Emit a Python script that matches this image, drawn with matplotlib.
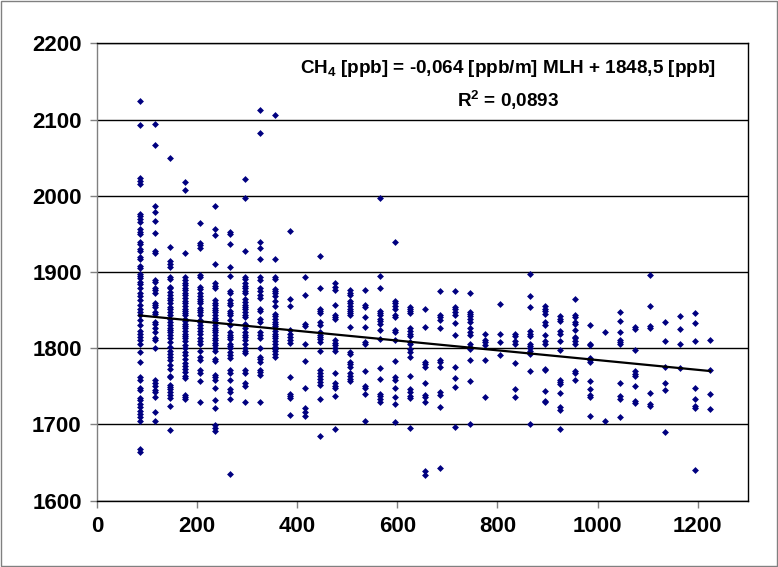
import matplotlib
matplotlib.use("Agg")
import matplotlib.pyplot as plt
from matplotlib.patches import Rectangle

plt.rcParams['font.family'] = ['Liberation Sans', 'DejaVu Sans']
plt.rcParams['mathtext.fontset'] = 'custom'
plt.rcParams['mathtext.rm'] = 'Liberation Sans:bold'
plt.rcParams['mathtext.it'] = 'Liberation Sans:bold'
plt.rcParams['mathtext.bf'] = 'Liberation Sans:bold'

# CH4 [ppb] readings, one list per mixing layer height bin [m]
ch4_085 = [2124, 2093, 2023, 2020, 2016, 1976, 1973, 1969, 1966, 1956, 1953, 1950, 1940, 1937,
           1930, 1927, 1920, 1917, 1908, 1905, 1898, 1895, 1892, 1887, 1884, 1879, 1873, 1868,
           1863, 1857, 1852, 1848, 1843, 1837, 1830, 1823, 1819, 1815, 1811, 1806, 1795, 1782,
           1762, 1759, 1748, 1745, 1735, 1732, 1727, 1723, 1718, 1714, 1710, 1704, 1668, 1664]
ch4_115 = [2094, 2066, 1987, 1979, 1967, 1951, 1927, 1925, 1889, 1887, 1879, 1876, 1872, 1859,
           1857, 1854, 1848, 1845, 1835, 1832, 1826, 1821, 1814, 1811, 1800, 1758, 1755, 1751,
           1745, 1742, 1736, 1716, 1704]
ch4_145 = [2050, 1933, 1914, 1911, 1907, 1894, 1891, 1881, 1879, 1874, 1870, 1866, 1863, 1859,
           1854, 1851, 1848, 1843, 1839, 1835, 1830, 1827, 1824, 1821, 1817, 1813, 1808, 1802,
           1797, 1793, 1789, 1784, 1778, 1773, 1764, 1762, 1752, 1749, 1746, 1743, 1739, 1735,
           1724, 1693]
ch4_175 = [2018, 2008, 1925, 1893, 1889, 1886, 1883, 1879, 1876, 1873, 1870, 1866, 1862, 1859,
           1856, 1852, 1849, 1846, 1843, 1839, 1836, 1832, 1829, 1826, 1822, 1819, 1816, 1813,
           1809, 1804, 1800, 1795, 1791, 1786, 1780, 1777, 1773, 1769, 1764, 1761, 1739, 1736, 1734]
ch4_205 = [1964, 1938, 1935, 1931, 1896, 1893, 1881, 1878, 1872, 1869, 1865, 1862, 1859, 1853,
           1850, 1847, 1843, 1837, 1835, 1831, 1826, 1822, 1819, 1813, 1809, 1806, 1797, 1789,
           1784, 1771, 1768, 1757, 1730]
ch4_235 = [1987, 1957, 1949, 1911, 1885, 1882, 1879, 1863, 1860, 1857, 1853, 1850, 1847, 1843,
           1840, 1837, 1834, 1830, 1827, 1824, 1821, 1817, 1814, 1811, 1807, 1804, 1800, 1797,
           1786, 1783, 1765, 1762, 1759, 1748, 1732, 1721, 1699, 1695, 1692]
ch4_265 = [1953, 1950, 1937, 1907, 1895, 1875, 1872, 1863, 1860, 1857, 1849, 1846, 1843, 1837,
           1830, 1821, 1818, 1815, 1812, 1806, 1803, 1800, 1795, 1791, 1787, 1771, 1768, 1758,
           1747, 1743, 1734, 1635]
ch4_295 = [2022, 1997, 1928, 1894, 1891, 1885, 1882, 1879, 1875, 1872, 1864, 1861, 1857, 1854,
           1851, 1848, 1844, 1841, 1832, 1830, 1827, 1821, 1818, 1815, 1811, 1806, 1800, 1797,
           1794, 1771, 1768, 1754, 1750, 1729]
ch4_325 = [2112, 2083, 1940, 1931, 1917, 1893, 1889, 1879, 1875, 1870, 1866, 1852, 1849, 1838,
           1835, 1821, 1817, 1814, 1800, 1789, 1786, 1782, 1772, 1769, 1765, 1729]
ch4_355 = [2106, 1917, 1894, 1891, 1878, 1875, 1872, 1868, 1862, 1855, 1845, 1842, 1839, 1835,
           1832, 1829, 1826, 1822, 1819, 1816, 1813, 1809, 1806, 1802, 1799, 1796, 1792, 1789]
ch4_385 = [1954, 1865, 1855, 1824, 1819, 1815, 1811, 1807, 1762, 1740, 1737, 1735, 1712]
ch4_415 = [1894, 1870, 1832, 1829, 1806, 1783, 1748, 1721, 1717, 1711]
ch4_445 = [1921, 1879, 1852, 1849, 1846, 1835, 1831, 1821, 1818, 1815, 1812, 1808, 1797, 1771,
           1768, 1764, 1760, 1756, 1752, 1734, 1685]
ch4_475 = [1885, 1881, 1876, 1857, 1844, 1841, 1838, 1811, 1807, 1804, 1800, 1797, 1767, 1755,
           1751, 1748, 1738, 1694]
ch4_505 = [1876, 1873, 1870, 1862, 1859, 1856, 1852, 1849, 1846, 1843, 1828, 1795, 1792, 1782,
           1779, 1775, 1767, 1764, 1760, 1757]
ch4_535 = [1876, 1857, 1854, 1841, 1828, 1808, 1805, 1770, 1751, 1748, 1740, 1704]
ch4_565 = [1997, 1895, 1879, 1849, 1846, 1843, 1839, 1836, 1832, 1824, 1812, 1774, 1760, 1740,
           1737, 1734, 1729]
ch4_595 = [1940, 1862, 1859, 1856, 1852, 1844, 1841, 1824, 1821, 1811, 1783, 1762, 1759, 1748,
           1736, 1727, 1703]
ch4_625 = [1854, 1851, 1849, 1846, 1826, 1822, 1819, 1816, 1808, 1805, 1799, 1795, 1789, 1764,
           1747, 1742, 1738, 1735, 1695]
ch4_655 = [1851, 1828, 1782, 1779, 1775, 1754, 1739, 1736, 1729, 1639, 1634]
ch4_685 = [1875, 1844, 1841, 1837, 1826, 1785, 1782, 1775, 1742, 1739, 1723, 1643]
ch4_715 = [1875, 1854, 1851, 1847, 1844, 1833, 1818, 1775, 1761, 1749, 1697]
ch4_745 = [1872, 1848, 1845, 1842, 1839, 1834, 1827, 1821, 1817, 1805, 1802, 1799, 1784, 1757, 1701]
ch4_775 = [1819, 1811, 1808, 1804, 1785, 1736]
ch4_805 = [1858, 1819, 1808, 1791]
ch4_835 = [1819, 1816, 1809, 1805, 1781, 1746, 1736]
ch4_865 = [1897, 1868, 1854, 1822, 1819, 1816, 1806, 1803, 1800, 1796, 1792, 1770, 1700]
ch4_895 = [1856, 1852, 1849, 1845, 1834, 1830, 1818, 1809, 1805, 1773, 1771, 1744, 1731, 1729]
ch4_925 = [1842, 1839, 1836, 1822, 1819, 1809, 1798, 1759, 1756, 1753, 1741, 1723, 1719, 1694]
ch4_955 = [1864, 1844, 1841, 1834, 1832, 1824, 1815, 1813, 1809, 1806, 1770, 1768, 1759]
ch4_985 = [1830, 1806, 1804, 1787, 1784, 1782, 1757, 1746, 1739, 1736, 1711]
ch4_1015 = [1821, 1704]
ch4_1045 = [1847, 1836, 1821, 1811, 1808, 1805, 1755, 1738, 1734, 1710]
ch4_1075 = [1828, 1825, 1798, 1770, 1766, 1763, 1750, 1731, 1728]
ch4_1105 = [1896, 1856, 1829, 1826, 1741, 1727, 1724]
ch4_1135 = [1835, 1810, 1776, 1755, 1745, 1690]
ch4_1165 = [1842, 1825, 1806, 1774]
ch4_1195 = [1846, 1833, 1810, 1748, 1734, 1724, 1721, 1640]
ch4_1225 = [1811, 1772, 1740, 1720]

mlh_bins = [85, 115, 145, 175, 205, 235, 265, 295, 325, 355, 385, 415, 445, 475, 505, 535,
            565, 595, 625, 655, 685, 715, 745, 775, 805, 835, 865, 895, 925, 955, 985, 1015,
            1045, 1075, 1105, 1135, 1165, 1195, 1225]
ch4_bins = [ch4_085, ch4_115, ch4_145, ch4_175, ch4_205, ch4_235, ch4_265, ch4_295, ch4_325,
            ch4_355, ch4_385, ch4_415, ch4_445, ch4_475, ch4_505, ch4_535, ch4_565, ch4_595,
            ch4_625, ch4_655, ch4_685, ch4_715, ch4_745, ch4_775, ch4_805, ch4_835, ch4_865,
            ch4_895, ch4_925, ch4_955, ch4_985, ch4_1015, ch4_1045, ch4_1075, ch4_1105,
            ch4_1135, ch4_1165, ch4_1195, ch4_1225]

# linear fit given on the chart
slope = -0.064
intercept = 1848.5

x_ticks = [0, 200, 400, 600, 800, 1000, 1200]
y_ticks = [1600, 1700, 1800, 1900, 2000, 2100, 2200]

mlh = []
ch4 = []
for x, values in zip(mlh_bins, ch4_bins):
    mlh += [x] * len(values)
    ch4 += values

fig = plt.figure(figsize=(7.78, 5.67), dpi=100)
ax = fig.add_axes([0.1247, 0.1169, 0.8363, 0.8067])

ax.plot(mlh, ch4, 'D', ms=3.5, color='#000080', mec='none', zorder=3)

fit_x = [min(mlh_bins), max(mlh_bins)]
fit_y = [intercept + slope * x for x in fit_x]
ax.plot(fit_x, fit_y, color='black', lw=1.6, zorder=4)

ax.set_xlim(0, 1300)
ax.set_ylim(1600, 2200)
ax.set_xticks(x_ticks)
ax.set_yticks(y_ticks)
ax.yaxis.grid(True, color='black', lw=1)
ax.set_axisbelow(True)

for side in ['top', 'right', 'bottom']:
    ax.spines[side].set_color('black')
ax.spines['left'].set_color('#808080')
for s in ax.spines.values():
    s.set_linewidth(1)

ax.tick_params(direction='out', length=5, width=1, color='#808080', pad=6,
               labelsize=16)
for lab in ax.get_xticklabels() + ax.get_yticklabels():
    lab.set_fontweight('bold')

ax.text(0.632, 0.946, 'CH$_4$ [ppb] = -0,064 [ppb/m] MLH + 1848,5 [ppb]',
        transform=ax.transAxes, ha='center', va='center', fontsize=13.6, fontweight='bold')
ax.text(0.632, 0.876, 'R$^2$ = 0,0893',
        transform=ax.transAxes, ha='center', va='center', fontsize=13.6, fontweight='bold')

fig.patches.append(Rectangle((0.001, 0.001), 0.998, 0.998, transform=fig.transFigure,
                             fill=False, edgecolor='#808080', lw=1))

fig.savefig('out.png', dpi=100)
